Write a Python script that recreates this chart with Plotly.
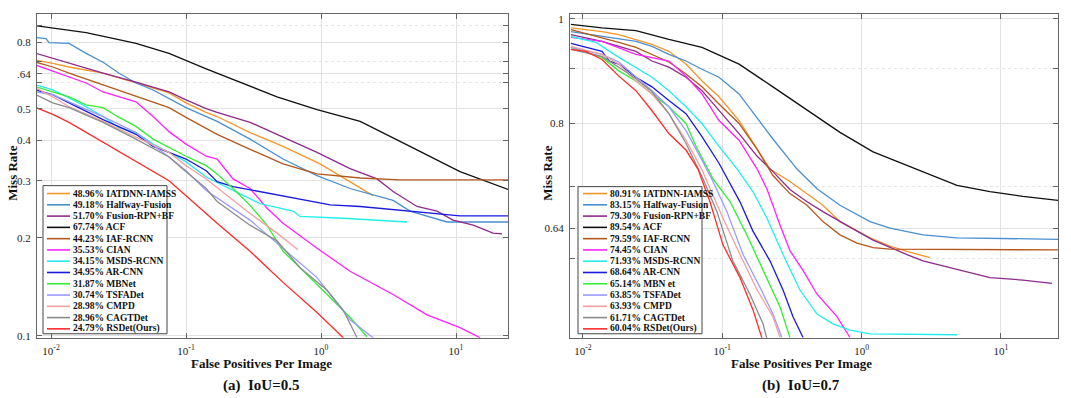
import plotly.graph_objects as go

# ---------------- data ----------------
methods = ["IATDNN-IAMSS", "Halfway-Fusion", "Fusion-RPN+BF", "ACF", "IAF-RCNN", "CIAN",
           "MSDS-RCNN", "AR-CNN", "MBNet", "TSFADet", "CMPD", "CAGTDet", "RSDet(Ours)"]
methods_b = ["IATDNN-IAMSS", "Halfway-Fusion", "Fusion-RPN+BF", "ACF", "IAF-RCNN", "CIAN",
             "MSDS-RCNN", "AR-CNN", "MBN et", "TSFADet", "CMPD", "CAGTDet", "RSDet(Ours)"]
lamr_a = ["48.96%", "49.18%", "51.70%", "67.74%", "44.23%", "35.53%", "34.15%",
          "34.95%", "31.87%", "30.74%", "28.98%", "28.96%", "24.79%"]
lamr_b = ["80.91%", "83.15%", "79.30%", "89.54%", "79.59%", "74.45%", "71.93%",
          "68.64%", "65.14%", "63.85%", "63.93%", "61.71%", "60.04%"]
colors = ["#f5962a", "#4a8fd0", "#8e2a8e", "#111111", "#b5581c", "#ff22ff", "#22eeee",
          "#1a1ae0", "#33ee33", "#9a9aff", "#f5a0a0", "#8c8c8c", "#ff2a2a"]

x_tick_vals = [0.01, 0.1, 1, 10]
x_tick_text = ["10<sup>-2</sup>", "10<sup>-1</sup>", "10<sup>0</sup>", "10<sup>1</sup>"]
ya_tick_vals = [0.1, 0.2, 0.3, 0.4, 0.5, 0.64, 0.8]
ya_tick_text = ["0.1", "0.2", "0.3", "0.4", "0.5", ".64", "0.8"]
ya_minor_vals = [0.6, 0.7, 0.9]
yb_tick_vals = [0.64, 0.8, 1.0]
yb_tick_text = ["0.64", "0.8", "1"]
yb_minor_vals = [0.6, 0.7, 0.9]

# ---- panel (a) IoU=0.5 : FPPI / miss rate ----
a_iatdnn_fppi = [0.00774, 0.0103, 0.0136, 0.0243, 0.0426, 0.0748, 0.100, 0.141, 0.170, 0.298, 0.523, 0.983, 1.31, 1.64, 2.43]
a_iatdnn_mr = [0.705, 0.690, 0.672, 0.643, 0.600, 0.559, 0.521, 0.487, 0.473, 0.422, 0.383, 0.338, 0.315, 0.298, 0.270]
a_halfway_fppi = [0.00774, 0.00918, 0.00966, 0.0136, 0.0182, 0.0243, 0.0319, 0.0426, 0.0570, 0.100, 0.170, 0.298, 0.523, 0.934, 1.64, 3.42, 4.56, 8.58, 24.3]
a_halfway_mr = [0.828, 0.822, 0.799, 0.794, 0.740, 0.695, 0.643, 0.600, 0.571, 0.504, 0.457, 0.403, 0.350, 0.311, 0.284, 0.261, 0.242, 0.224, 0.224]
a_fusion_fppi = [0.00774, 0.0136, 0.0243, 0.0426, 0.0748, 0.100, 0.141, 0.170, 0.298, 0.523, 0.934, 1.64, 2.60, 3.42, 5.14, 7.23, 9.50, 13.4, 18.8, 21.9]
a_fusion_mr = [0.740, 0.690, 0.643, 0.604, 0.563, 0.532, 0.500, 0.487, 0.454, 0.409, 0.367, 0.327, 0.304, 0.278, 0.250, 0.242, 0.227, 0.219, 0.207, 0.206]
a_acf_fppi = [0.00774, 0.0182, 0.0426, 0.0748, 0.141, 0.231, 0.472, 0.934, 1.95, 4.56, 10.7, 24.3]
a_acf_mr = [0.900, 0.857, 0.794, 0.740, 0.663, 0.612, 0.544, 0.497, 0.457, 0.383, 0.320, 0.282]
a_iaf_fppi = [0.00774, 0.0103, 0.0136, 0.0243, 0.0426, 0.0748, 0.100, 0.170, 0.298, 0.523, 0.934, 1.95, 3.85, 24.3]
a_iaf_mr = [0.695, 0.672, 0.643, 0.592, 0.544, 0.504, 0.470, 0.417, 0.375, 0.338, 0.315, 0.306, 0.302, 0.302]
a_cian_fppi = [0.00774, 0.0136, 0.0182, 0.0243, 0.0426, 0.0570, 0.0748, 0.100, 0.141, 0.170, 0.223, 0.298, 0.398, 0.523, 0.934, 1.64, 3.42, 6.10, 10.7, 15.1]
a_cian_mr = [0.681, 0.625, 0.600, 0.563, 0.525, 0.473, 0.425, 0.389, 0.357, 0.350, 0.304, 0.284, 0.247, 0.222, 0.186, 0.158, 0.134, 0.116, 0.106, 0.0986]
a_msds_fppi = [0.00774, 0.0103, 0.0136, 0.0182, 0.0243, 0.0319, 0.0426, 0.0570, 0.0748, 0.100, 0.141, 0.223, 0.353, 0.620, 0.699, 1.46, 4.34]
a_msds_mr = [0.592, 0.571, 0.540, 0.507, 0.473, 0.437, 0.422, 0.389, 0.367, 0.343, 0.308, 0.280, 0.255, 0.242, 0.233, 0.230, 0.224]
a_arcnn_fppi = [0.00774, 0.0103, 0.0136, 0.0243, 0.0426, 0.0570, 0.0748, 0.100, 0.141, 0.170, 0.223, 0.353, 0.620, 1.17, 1.95, 4.56, 10.7, 24.3]
a_arcnn_mr = [0.571, 0.552, 0.521, 0.463, 0.417, 0.383, 0.367, 0.350, 0.322, 0.298, 0.288, 0.278, 0.265, 0.253, 0.250, 0.242, 0.234, 0.234]
a_mbnet_fppi = [0.00774, 0.0103, 0.0136, 0.0182, 0.0243, 0.0319, 0.0426, 0.0570, 0.0748, 0.100, 0.141, 0.170, 0.223, 0.298, 0.398, 0.523, 0.699, 0.934, 1.23, 1.64, 2.19]
a_mbnet_mr = [0.584, 0.563, 0.544, 0.514, 0.504, 0.470, 0.441, 0.403, 0.380, 0.357, 0.334, 0.315, 0.284, 0.252, 0.219, 0.182, 0.162, 0.144, 0.129, 0.114, 0.0993]
a_tsfadet_fppi = [0.00774, 0.0103, 0.0136, 0.0243, 0.0426, 0.0748, 0.100, 0.141, 0.298, 0.523, 0.699, 0.934, 1.64, 2.43]
a_tsfadet_mr = [0.563, 0.552, 0.525, 0.473, 0.422, 0.355, 0.322, 0.280, 0.227, 0.186, 0.168, 0.151, 0.112, 0.0986]
a_cmpd_fppi = [0.00774, 0.0103, 0.0136, 0.0243, 0.0426, 0.0748, 0.100, 0.141, 0.298, 0.472, 0.675]
a_cmpd_mr = [0.579, 0.544, 0.507, 0.457, 0.409, 0.367, 0.334, 0.304, 0.238, 0.207, 0.184]
a_cagt_fppi = [0.00774, 0.0103, 0.0136, 0.0243, 0.0426, 0.0748, 0.100, 0.141, 0.170, 0.298, 0.472, 0.699, 1.11, 1.46, 1.85]
a_cagt_mr = [0.552, 0.521, 0.504, 0.454, 0.403, 0.355, 0.320, 0.284, 0.259, 0.219, 0.196, 0.162, 0.138, 0.120, 0.0986]
a_rsdet_fppi = [0.00774, 0.0103, 0.0136, 0.0243, 0.0426, 0.0748, 0.100, 0.170, 0.298, 0.523, 0.934, 1.46]
a_rsdet_mr = [0.504, 0.480, 0.454, 0.394, 0.343, 0.300, 0.270, 0.222, 0.182, 0.146, 0.118, 0.0986]

# ---- panel (b) IoU=0.7 : FPPI / miss rate ----
b_iatdnn_fppi = [0.0082, 0.0137, 0.0181, 0.0240, 0.0313, 0.0414, 0.0549, 0.0715, 0.0947, 0.132, 0.178, 0.220, 0.306, 0.528, 0.700, 1.15, 1.60, 2.12, 3.10]
b_iatdnn_mr = [0.981, 0.973, 0.967, 0.957, 0.947, 0.933, 0.908, 0.876, 0.847, 0.805, 0.757, 0.726, 0.707, 0.672, 0.649, 0.627, 0.616, 0.609, 0.601]
b_halfway_fppi = [0.0082, 0.0137, 0.0240, 0.0313, 0.0414, 0.0549, 0.0715, 0.0947, 0.132, 0.231, 0.344, 0.479, 0.700, 1.15, 1.60, 2.76, 4.84, 25.7]
b_halfway_mr = [0.973, 0.963, 0.953, 0.943, 0.927, 0.914, 0.898, 0.883, 0.852, 0.774, 0.726, 0.696, 0.672, 0.649, 0.640, 0.631, 0.627, 0.625]
b_fusion_fppi = [0.0082, 0.0137, 0.0240, 0.0313, 0.0414, 0.0549, 0.0715, 0.0947, 0.132, 0.178, 0.231, 0.306, 0.406, 0.528, 0.700, 0.927, 1.21, 1.60, 2.12, 2.76, 4.84, 8.35, 14.4, 23.3]
b_fusion_mr = [0.967, 0.953, 0.933, 0.914, 0.902, 0.883, 0.858, 0.822, 0.783, 0.746, 0.722, 0.695, 0.677, 0.663, 0.649, 0.636, 0.624, 0.614, 0.605, 0.597, 0.586, 0.576, 0.573, 0.569]
b_acf_fppi = [0.0082, 0.0137, 0.0240, 0.0414, 0.0715, 0.132, 0.231, 0.406, 0.700, 1.21, 2.76, 4.84, 8.35, 14.4, 25.7]
b_acf_mr = [0.988, 0.981, 0.975, 0.957, 0.941, 0.908, 0.865, 0.824, 0.785, 0.753, 0.722, 0.701, 0.692, 0.685, 0.679]
b_iaf_fppi = [0.0082, 0.0137, 0.0181, 0.0240, 0.0313, 0.0414, 0.0549, 0.0715, 0.0947, 0.132, 0.178, 0.231, 0.306, 0.406, 0.528, 0.700, 0.927, 1.21, 1.60, 25.7]
b_iaf_mr = [0.977, 0.961, 0.951, 0.941, 0.927, 0.912, 0.889, 0.865, 0.834, 0.800, 0.757, 0.716, 0.689, 0.672, 0.649, 0.631, 0.620, 0.614, 0.612, 0.611]
b_cian_fppi = [0.0082, 0.0137, 0.0240, 0.0313, 0.0414, 0.0549, 0.0715, 0.0947, 0.132, 0.178, 0.209, 0.260, 0.306, 0.380, 0.479, 0.666, 0.825]
b_cian_mr = [0.961, 0.953, 0.927, 0.921, 0.914, 0.885, 0.852, 0.805, 0.772, 0.726, 0.696, 0.644, 0.610, 0.585, 0.556, 0.530, 0.507]
b_msds_fppi = [0.0082, 0.0124, 0.0181, 0.0240, 0.0313, 0.0414, 0.0549, 0.0715, 0.0947, 0.128, 0.166, 0.209, 0.273, 0.361, 0.479, 0.623, 0.825, 1.15, 4.84]
b_msds_mr = [0.963, 0.951, 0.921, 0.902, 0.883, 0.858, 0.829, 0.800, 0.762, 0.726, 0.692, 0.654, 0.605, 0.561, 0.533, 0.522, 0.515, 0.511, 0.510]
b_arcnn_fppi = [0.0082, 0.0105, 0.0137, 0.0154, 0.0181, 0.0240, 0.0313, 0.0414, 0.0549, 0.0715, 0.0947, 0.134, 0.166, 0.220, 0.273, 0.322, 0.380]
b_arcnn_mr = [0.949, 0.941, 0.933, 0.914, 0.908, 0.883, 0.865, 0.840, 0.817, 0.778, 0.735, 0.677, 0.636, 0.597, 0.561, 0.530, 0.507]
b_mbnet_fppi = [0.0082, 0.0105, 0.0137, 0.0181, 0.0240, 0.0313, 0.0414, 0.0549, 0.0648, 0.0858, 0.114, 0.150, 0.196, 0.260, 0.306]
b_mbnet_mr = [0.941, 0.931, 0.921, 0.895, 0.876, 0.852, 0.829, 0.800, 0.762, 0.711, 0.677, 0.631, 0.585, 0.541, 0.507]
b_tsfadet_fppi = [0.0082, 0.0137, 0.0181, 0.0240, 0.0313, 0.0414, 0.0549, 0.0715, 0.0858, 0.108, 0.141, 0.187, 0.231, 0.268]
b_tsfadet_mr = [0.941, 0.927, 0.912, 0.883, 0.858, 0.829, 0.788, 0.740, 0.707, 0.663, 0.605, 0.564, 0.533, 0.507]
b_cmpd_fppi = [0.0082, 0.0137, 0.0181, 0.0240, 0.0313, 0.0414, 0.0549, 0.0715, 0.0777, 0.101, 0.134, 0.178, 0.231, 0.260]
b_cmpd_mr = [0.943, 0.927, 0.908, 0.876, 0.852, 0.817, 0.772, 0.725, 0.707, 0.654, 0.605, 0.561, 0.530, 0.507]
b_cagt_fppi = [0.0082, 0.0137, 0.0181, 0.0240, 0.0313, 0.0414, 0.0549, 0.0727, 0.0916, 0.119, 0.158, 0.196, 0.209]
b_cagt_mr = [0.937, 0.923, 0.902, 0.880, 0.856, 0.817, 0.767, 0.711, 0.663, 0.597, 0.556, 0.522, 0.506]
b_rsdet_fppi = [0.0082, 0.0105, 0.0137, 0.0181, 0.0240, 0.0313, 0.0414, 0.0549, 0.0669, 0.0816, 0.101, 0.134, 0.166, 0.193]
b_rsdet_mr = [0.937, 0.933, 0.917, 0.885, 0.858, 0.822, 0.783, 0.756, 0.726, 0.677, 0.618, 0.576, 0.538, 0.506]

curves_a = [(a_iatdnn_fppi, a_iatdnn_mr), (a_halfway_fppi, a_halfway_mr), (a_fusion_fppi, a_fusion_mr),
            (a_acf_fppi, a_acf_mr), (a_iaf_fppi, a_iaf_mr), (a_cian_fppi, a_cian_mr),
            (a_msds_fppi, a_msds_mr), (a_arcnn_fppi, a_arcnn_mr), (a_mbnet_fppi, a_mbnet_mr),
            (a_tsfadet_fppi, a_tsfadet_mr), (a_cmpd_fppi, a_cmpd_mr), (a_cagt_fppi, a_cagt_mr),
            (a_rsdet_fppi, a_rsdet_mr)]
curves_b = [(b_iatdnn_fppi, b_iatdnn_mr), (b_halfway_fppi, b_halfway_mr), (b_fusion_fppi, b_fusion_mr),
            (b_acf_fppi, b_acf_mr), (b_iaf_fppi, b_iaf_mr), (b_cian_fppi, b_cian_mr),
            (b_msds_fppi, b_msds_mr), (b_arcnn_fppi, b_arcnn_mr), (b_mbnet_fppi, b_mbnet_mr),
            (b_tsfadet_fppi, b_tsfadet_mr), (b_cmpd_fppi, b_cmpd_mr), (b_cagt_fppi, b_cagt_mr),
            (b_rsdet_fppi, b_rsdet_mr)]

# ---------------- layout constants ----------------
W, H = 1071, 398
FONT = "Liberation Serif, Times New Roman, serif"


def px(x):
    return x / W


def py(y):
    return 1 - y / H


fig = go.Figure()
for i, (fx, fy) in enumerate(curves_a):
    fig.add_trace(go.Scatter(x=fx, y=fy, mode="lines", xaxis="x", yaxis="y",
                             line=dict(color=colors[i], width=1.3), showlegend=False,
                             name=methods[i]))
for i, (fx, fy) in enumerate(curves_b):
    fig.add_trace(go.Scatter(x=fx, y=fy, mode="lines", xaxis="x2", yaxis="y2",
                             line=dict(color=colors[i], width=1.3), showlegend=False,
                             name=methods_b[i]))

axis_style = dict(type="log", showgrid=True, gridcolor="#e2e2e2", gridwidth=1,
                  showline=True, linecolor="#666666", linewidth=1, mirror="ticks",
                  ticks="inside", ticklen=5, tickcolor="#666666", zeroline=False,
                  tickfont=dict(family=FONT, size=11, color="#222222"), ticklabelstandoff=3)


def minor_style(vals):
    return dict(tickmode="array", tickvals=vals, ticks="inside", ticklen=5, tickcolor="#666666",
                showgrid=True, gridcolor="#e6e6e6", griddash="dot", gridwidth=1)


fig.update_layout(
    width=W, height=H, autosize=False,
    margin=dict(l=0, r=0, t=0, b=0),
    paper_bgcolor="white", plot_bgcolor="white",
    font=dict(family=FONT, color="#111111"),
    xaxis=dict(axis_style, domain=[px(37), px(508)], range=[-2.104, 1.385], anchor="y",
               tickvals=x_tick_vals, ticktext=x_tick_text),
    yaxis=dict(axis_style, domain=[py(341), py(13)], range=[-1.006, -0.009], anchor="x",
               tickvals=ya_tick_vals, ticktext=ya_tick_text, minor=minor_style(ya_minor_vals)),
    xaxis2=dict(axis_style, domain=[px(570), px(1058)], range=[-2.093, 1.410], anchor="y2",
                tickvals=x_tick_vals, ticktext=x_tick_text),
    yaxis2=dict(axis_style, domain=[py(341), py(13)], range=[-0.2952, 0.0046], anchor="x2",
                tickvals=yb_tick_vals, ticktext=yb_tick_text, minor=minor_style(yb_minor_vals)),
)

annotations = []
shapes = []

# axis titles and panel captions
for cx, cap in [(261, "(a)\u00a0\u00a0IoU=0.5"), (801, "(b)\u00a0\u00a0IoU=0.7")]:
    annotations.append(dict(x=px(cx), y=py(367), xref="paper", yref="paper", showarrow=False,
                            text="<b>False Positives Per Image</b>", xanchor="center", yanchor="middle",
                            font=dict(family=FONT, size=13, color="#111111")))
    annotations.append(dict(x=px(cx), y=py(389), xref="paper", yref="paper", showarrow=False,
                            text="<b>" + cap + "</b>", xanchor="center", yanchor="middle",
                            font=dict(family=FONT, size=15, color="#111111")))
for cx in [13, 548]:
    annotations.append(dict(x=px(cx), y=py(175), xref="paper", yref="paper", showarrow=False,
                            text="<b>Miss Rate</b>", textangle=-90, xanchor="center", yanchor="middle",
                            font=dict(family=FONT, size=13, color="#111111")))

# custom compact legends (MATLAB style)
legend_specs = [
    dict(box=(43, 187, 167, 337), sw=(47, 70), tx=72, y0=195, dy=11.42, labels=lamr_a, names=methods),
    dict(box=(578, 188, 702, 337), sw=(583, 607), tx=609, y0=195, dy=11.42, labels=lamr_b, names=methods_b),
]
for spec in legend_specs:
    bx0, by0, bx1, by1 = spec["box"]
    shapes.append(dict(type="rect", xref="paper", yref="paper", x0=px(bx0), x1=px(bx1),
                       y0=py(by1), y1=py(by0), fillcolor="white",
                       line=dict(color="#444444", width=1), layer="above"))
    for i in range(len(spec["names"])):
        yc = spec["y0"] + i * spec["dy"]
        shapes.append(dict(type="line", xref="paper", yref="paper", x0=px(spec["sw"][0]),
                           x1=px(spec["sw"][1]), y0=py(yc), y1=py(yc),
                           line=dict(color=colors[i], width=1.6), layer="above"))
        annotations.append(dict(x=px(spec["tx"]), y=py(yc), xref="paper", yref="paper",
                                showarrow=False, xanchor="left", yanchor="middle",
                                text="<b>" + spec["labels"][i] + " " + spec["names"][i] + "</b>",
                                font=dict(family=FONT, size=9.5, color="#111111"), borderpad=0))

fig.update_layout(annotations=annotations, shapes=shapes)

fig.write_html("out.html", config={"displayModeBar": False},
               post_script="document.body.style.margin='0';")
